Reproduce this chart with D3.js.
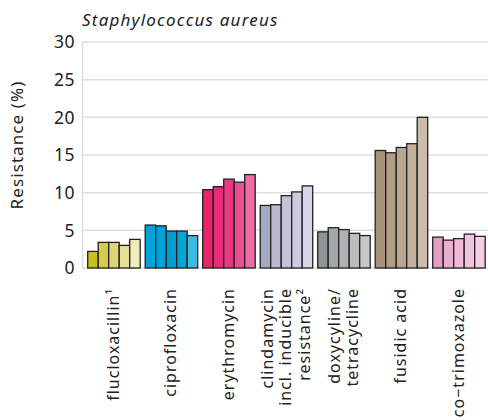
<!doctype html>
<html lang="en">
<head>
<meta charset="UTF-8">
<title>Staphylococcus aureus</title>
<script src="https://d3js.org/d3.v7.min.js"></script>
<style>
  body { margin: 0; background: #fff; }
  text { font-family: "Noto Sans", "Open Sans", sans-serif; fill: #222; }
</style>
</head>
<body>
<div id="chart"></div>
<script>
  // Data
  const categories = [
    ['flucloxacillin¹'],
    ['ciprofloxacin'],
    ['erythromycin'],
    ['clindamycin', 'incl. inducible', 'resistance²'],
    ['doxycyline/', 'tetracycline'],
    ['fusidic acid'],
    ['co\u2212trimoxazole']
  ];
  const years = ['y1', 'y2', 'y3', 'y4', 'y5'];
  const values = [
    [2.2, 3.4, 3.4, 3.0, 3.8],
    [5.7, 5.6, 4.9, 4.9, 4.3],
    [10.4, 10.8, 11.8, 11.4, 12.4],
    [8.3, 8.4, 9.6, 10.1, 10.9],
    [4.8, 5.35, 5.1, 4.6, 4.3],
    [15.6, 15.3, 16.0, 16.5, 20.0],
    [4.1, 3.7, 3.9, 4.5, 4.2]
  ];
  const colors = [
    ['#c9bf1d', '#d4cc4a', '#dcd57a', '#e5e196', '#efecbd'],
    ['#00a4dc', '#00a3da', '#009fcd', '#00a6d6', '#3bbbe0'],
    ['#e8246b', '#e82a78', '#e93882', '#ec4e93', '#ef6aa6'],
    ['#a4a9c5', '#b8b9d0', '#c3c2d9', '#cbcae0', '#d6d4e6'],
    ['#8f9597', '#a4a8aa', '#b0b3b4', '#bbbdbe', '#c6c7c7'],
    ['#a8927a', '#b09e86', '#b9a792', '#c3b19e', '#cdbcaa'],
    ['#e59dc3', '#ebadd0', '#eeb8d6', '#f0c2dd', '#f3cee4']
  ];
  const yTicks = [0, 5, 10, 15, 20, 25, 30];

  const width = 488, height = 420;
  const plot = { left: 82.5, right: 488, top: 42, bottom: 268 };

  const svg = d3.select('#chart').append('svg')
    .attr('width', width)
    .attr('height', height);

  const yScale = d3.scaleLinear()
    .domain([0, 30])
    .range([plot.bottom, plot.top]);

  const xScale = d3.scaleBand()
    .domain(d3.range(categories.length))
    .range([85.2, 487.7])
    .paddingInner(5 / 57.5)
    .paddingOuter(2.5 / 57.5);

  const xInner = d3.scaleBand()
    .domain(years)
    .range([0, xScale.bandwidth()]);

  // grid
  svg.append('g')
    .selectAll('line')
    .data(yTicks)
    .join('line')
    .attr('x1', plot.left)
    .attr('x2', plot.right)
    .attr('y1', d => yScale(d))
    .attr('y2', d => yScale(d))
    .attr('stroke', '#dedede')
    .attr('stroke-width', 1.5);

  svg.append('line')
    .attr('x1', plot.left).attr('x2', plot.left)
    .attr('y1', plot.top).attr('y2', plot.bottom)
    .attr('stroke', '#dedede')
    .attr('stroke-width', 1.5);

  // y tick labels
  svg.append('g')
    .selectAll('text')
    .data(yTicks)
    .join('text')
    .attr('x', 75)
    .attr('y', d => yScale(d))
    .attr('dy', '0.36em')
    .attr('text-anchor', 'end')
    .style('font-size', '17.5px')
    .style('letter-spacing', '0.5px')
    .text(d => d);

  // bars
  const groups = svg.append('g')
    .selectAll('g')
    .data(values)
    .join('g')
    .attr('transform', (d, i) => `translate(${xScale(i)},0)`);

  groups.selectAll('rect')
    .data((d, i) => d.map((v, j) => ({ v, j, c: colors[i][j] })))
    .join('rect')
    .attr('x', d => xInner(years[d.j]))
    .attr('y', d => yScale(d.v))
    .attr('width', xInner.bandwidth())
    .attr('height', d => yScale(0) - yScale(d.v))
    .attr('fill', d => d.c)
    .attr('stroke', '#222')
    .attr('stroke-width', 1.3);

  // x labels
  const labels = svg.append('g')
    .selectAll('text')
    .data(categories)
    .join('text')
    .attr('transform', (d, i) => {
      const cx = xScale(i) + xScale.bandwidth() / 2;
      return `translate(${cx},288) rotate(-90)`;
    })
    .attr('text-anchor', 'end')
    .style('font-size', '16px')
    .style('letter-spacing', '1px');

  labels.each(function (lines) {
    const t = d3.select(this);
    const lh = 18.5;
    const off = -(lines.length - 1) * lh / 2 + 5;
    lines.forEach((line, k) => {
      t.append('tspan')
        .attr('x', 0)
        .attr('y', off + k * lh)
        .text(line);
    });
  });

  // title
  svg.append('text')
    .attr('x', 82)
    .attr('y', 26)
    .style('font-size', '17px')
    .style('font-style', 'italic')
    .style('letter-spacing', '1.2px')
    .text('Staphylococcus aureus');

  // y axis title
  svg.append('text')
    .attr('transform', `translate(23,145) rotate(-90)`)
    .attr('text-anchor', 'middle')
    .style('font-size', '17px')
    .style('letter-spacing', '1.1px')
    .text('Resistance (%)');
</script>
</body>
</html>
